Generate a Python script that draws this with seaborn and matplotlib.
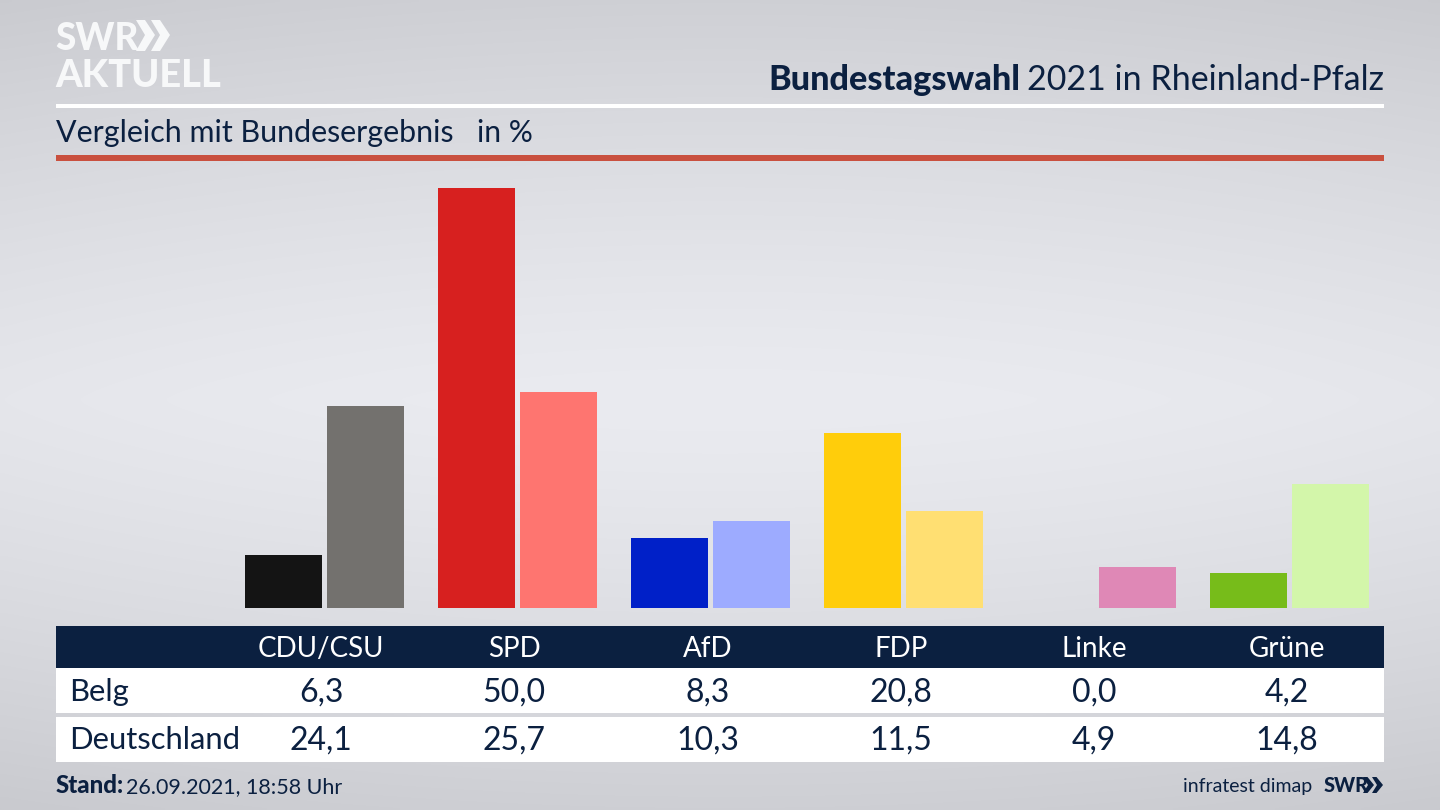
import numpy as np
import pandas as pd
import matplotlib
matplotlib.use("Agg")
import matplotlib.pyplot as plt
from matplotlib.patches import Rectangle, Polygon
import seaborn as sns

parties = ["CDU/CSU", "SPD", "AfD", "FDP", "Linke", "Grüne"]
belg = [6.3, 50.0, 8.3, 20.8, 0.0, 4.2]
deutschland = [24.1, 25.7, 10.3, 11.5, 4.9, 14.8]
regions = ["Belg", "Deutschland"]
colors_belg = ["#141414", "#d7201f", "#0020c8", "#ffcd0b", "#c8328c", "#77bc1a"]
colors_de = ["#73716e", "#fe7570", "#9dabff", "#ffdf72", "#df88b6", "#d3f6aa"]

NAVY = "#0b2040"
FONT = "Lato"
W, H = 1440, 810

sns.set_theme(style="white")
plt.rcParams["font.family"] = [FONT, "DejaVu Sans"]

fig = plt.figure(figsize=(14.4, 8.1), dpi=100)

# background + furniture in pixel coordinates
bg = fig.add_axes([0, 0, 1, 1], zorder=0)
bg.set_xlim(0, W)
bg.set_ylim(H, 0)
bg.axis("off")
yy = np.abs(np.linspace(0, H, 200) - 400) / 410
xx = np.abs(np.linspace(0, W, 200) - 720) / 720
gy, gx = np.meshgrid(yy, xx, indexing="ij")
shade = 234 - 28 * gy ** 1.3 - 5 * gx ** 2
grad = np.dstack([shade / 255, (shade + 1) / 255, (shade + 6) / 255]).clip(0, 1)
bg.imshow(grad, extent=(0, W, H, 0), aspect="auto", zorder=0, interpolation="bilinear")
bg.set_xlim(0, W)
bg.set_ylim(H, 0)


def box(x0, y0, x1, y1, color):
    bg.add_patch(Rectangle((x0, y0), x1 - x0, y1 - y0, facecolor=color, edgecolor="none", zorder=1))


def txt(x, y, s, size, color=NAVY, ha="left", weight="normal", **kw):
    return bg.text(x, y, s, fontsize=size * 0.72, color=color, ha=ha, va="baseline", fontweight=weight, zorder=3, **kw)


box(56, 104, 1384, 107.5, "white")
box(56, 155, 1384, 160.5, "#c9503f")
box(56, 626, 1384, 668, NAVY)
box(56, 668, 1384, 713, "white")
box(56, 717, 1384, 762, "white")

# logo
txt(55, 50, "SWR", 37, color="#f7f8f9", weight="black")
txt(55, 87, "AKTUELL", 38, color="#f7f8f9", weight="black")
for x0 in (136, 151):
    bg.add_patch(Polygon([(x0, 20), (x0 + 9, 20), (x0 + 19, 35), (x0 + 9, 51), (x0, 51), (x0 + 9, 35)],
                         closed=True, facecolor="#f7f8f9", edgecolor="none", zorder=3))

# titles
txt(1384, 90, "2021 in Rheinland-Pfalz", 34, ha="right")
txt(1020, 90, "Bundestagswahl", 34.3, ha="right", weight="black")
txt(56, 142, "Vergleich mit Bundesergebnis", 30.4)
txt(477, 142, "in %", 30)

# table
col_x = [321, 514, 708, 901, 1094, 1287]
for x, p, b, d in zip(col_x, parties, belg, deutschland):
    txt(x, 657, p, 27.7, color="white", ha="center")
    txt(x, 702, f"{b:.1f}".replace(".", ","), 32, ha="center")
    txt(x, 750, f"{d:.1f}".replace(".", ","), 32, ha="center")
txt(69, 701, regions[0], 31)
txt(69, 749, regions[1], 31)

# footer
txt(56, 793, "Stand:", 24, weight="black")
txt(126, 793, "26.09.2021, 18:58 Uhr", 21.5)
txt(1312, 792, "infratest dimap", 19.5, ha="right")
txt(1324, 792, "SWR", 20, weight="black")
for x0 in (1363, 1372):
    bg.add_patch(Polygon([(x0, 777), (x0 + 4.5, 777), (x0 + 11, 785), (x0 + 4.5, 793), (x0, 793), (x0 + 5, 785)],
                         closed=True, facecolor=NAVY, edgecolor="none", zorder=3))

# bars: baseline at y=608, 8.4 px per percentage point
left, top, bottom = 132, 160, 608
ax = fig.add_axes([left / W, 1 - bottom / H, (W - left) / W, (bottom - top) / H], zorder=2)
ax.patch.set_alpha(0)
df = pd.DataFrame({
    "Partei": parties * 2,
    "Gebiet": [regions[0]] * len(parties) + [regions[1]] * len(parties),
    "Wert": belg + deutschland,
})
sns.barplot(data=df, x="Partei", y="Wert", hue="Gebiet", order=parties, hue_order=regions,
            width=0.85, gap=0.061, legend=False, ax=ax, saturation=1)
for container, cols in zip(ax.containers, (colors_belg, colors_de)):
    for bar, c in zip(container, cols):
        bar.set_facecolor(c)
        bar.set_edgecolor("none")
ax.set_xlim((left - 324.5) / 193.0, (W - 324.5) / 193.0)
ax.set_ylim(0, (bottom - top) / 8.4)
ax.axis("off")

fig.savefig("out.png", dpi=100)
